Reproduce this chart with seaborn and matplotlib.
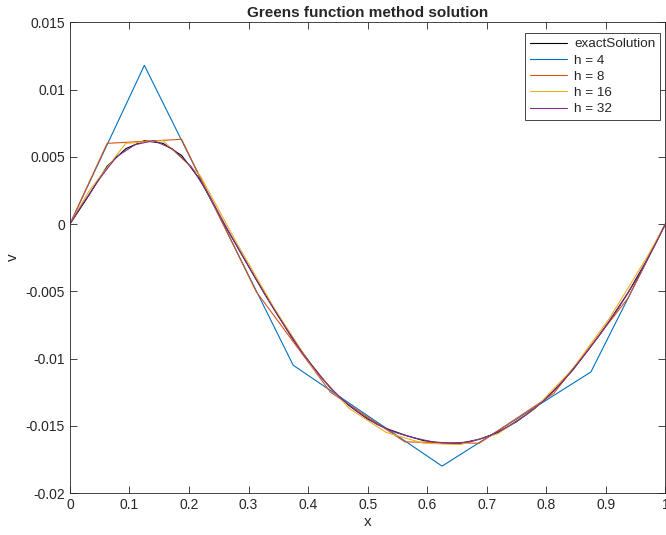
import matplotlib
matplotlib.use("Agg")
import matplotlib.pyplot as plt
import seaborn as sns

# exact solution, read at multiples of 1/32
x_exact = [0, 0.03125, 0.0625, 0.09375, 0.125, 0.15625, 0.1875, 0.21875, 0.25,
           0.28125, 0.3125, 0.34375, 0.375, 0.40625, 0.4375, 0.46875, 0.5,
           0.53125, 0.5625, 0.59375, 0.625, 0.65625, 0.6875, 0.71875, 0.75,
           0.78125, 0.8125, 0.84375, 0.875, 0.90625, 0.9375, 0.96875, 1]
v_exact = [0, 0.0021, 0.0043, 0.0056, 0.0062, 0.0060, 0.0051, 0.0033, 0.0007,
           -0.0017, -0.0041, -0.0064, -0.0086, -0.0105, -0.0122, -0.0135, -0.0145,
           -0.0152, -0.0157, -0.0161, -0.0163, -0.0163, -0.0160, -0.0155, -0.0147,
           -0.0137, -0.0124, -0.0109, -0.0091, -0.0072, -0.0051, -0.0027, 0]

x_h4 = [0, 0.125, 0.375, 0.625, 0.875, 1]
v_h4 = [0, 0.0118, -0.0105, -0.0180, -0.0110, 0]

x_h8 = [0, 0.0625, 0.1875, 0.3125, 0.4375, 0.5625, 0.6875, 0.8125, 0.9375, 1]
v_h8 = [0, 0.0060, 0.0063, -0.0050, -0.0125, -0.0162, -0.0163, -0.0126, -0.0055, 0]

x_h16 = [0, 0.03125, 0.09375, 0.15625, 0.21875, 0.28125, 0.34375, 0.40625, 0.46875,
         0.53125, 0.59375, 0.65625, 0.71875, 0.78125, 0.84375, 0.90625, 0.96875, 1]
v_h16 = [0, 0.0024, 0.0060, 0.0062, 0.0036, -0.0015, -0.0063, -0.0106, -0.0137,
         -0.0155, -0.0163, -0.0164, -0.0156, -0.0137, -0.0108, -0.0070, -0.0025, 0]

x_h32 = [0, 0.015625, 0.046875, 0.078125, 0.109375, 0.140625, 0.171875, 0.203125,
         0.234375, 0.265625, 0.296875, 0.328125, 0.359375, 0.390625, 0.421875,
         0.453125, 0.484375, 0.515625, 0.546875, 0.578125, 0.609375, 0.640625,
         0.671875, 0.703125, 0.734375, 0.765625, 0.796875, 0.828125, 0.859375,
         0.890625, 0.921875, 0.953125, 0.984375, 1]
v_h32 = [0, 0.0011, 0.0032, 0.0050, 0.0059, 0.0062, 0.0056, 0.0043,
         0.0021, -0.0005, -0.0029, -0.0053, -0.0075, -0.0096, -0.0114,
         -0.0129, -0.0140, -0.0149, -0.0155, -0.0159, -0.0162, -0.0163,
         -0.0162, -0.0158, -0.0151, -0.0142, -0.0131, -0.0117, -0.0100,
         -0.0082, -0.0062, -0.0040, -0.0014, 0]

x_ticks = [0, 0.1, 0.2, 0.3, 0.4, 0.5, 0.6, 0.7, 0.8, 0.9, 1]
x_labels = ["0", "0.1", "0.2", "0.3", "0.4", "0.5", "0.6", "0.7", "0.8", "0.9", "1"]
y_ticks = [-0.02, -0.015, -0.01, -0.005, 0, 0.005, 0.01, 0.015]
y_labels = ["-0.02", "-0.015", "-0.01", "-0.005", "0", "0.005", "0.01", "0.015"]

sns.set_style("ticks")
plt.rcParams['font.family'] = ['Liberation Sans', 'DejaVu Sans']

fig = plt.figure(figsize=(6.66, 5.35), dpi=100)
ax = fig.add_axes([0.105, 0.0785, 0.894, 0.8798])

lw = 0.8
sns.lineplot(x=x_exact, y=v_exact, color="black", lw=lw, label="exactSolution", ax=ax)
sns.lineplot(x=x_h4, y=v_h4, color="#0072BD", lw=lw, label="h = 4", ax=ax)
sns.lineplot(x=x_h8, y=v_h8, color="#D95319", lw=lw, label="h = 8", ax=ax)
sns.lineplot(x=x_h16, y=v_h16, color="#EDB120", lw=lw, label="h = 16", ax=ax)
sns.lineplot(x=x_h32, y=v_h32, color="#7E2F8E", lw=lw, label="h = 32", ax=ax)

ax.set_xlim(0, 1)
ax.set_ylim(-0.02, 0.015)
ax.set_xticks(x_ticks)
ax.set_xticklabels(x_labels)
ax.set_yticks(y_ticks)
ax.set_yticklabels(y_labels)
ax.tick_params(direction="in", top=True, right=True, labelsize=10,
               colors="#262626", length=5, width=0.6)
for s in ax.spines.values():
    s.set_color("#262626")
    s.set_linewidth(0.6)

ax.set_title("Greens function method solution", fontsize=11, fontweight="bold", pad=4)
ax.set_xlabel("x", fontsize=11, labelpad=2)
ax.set_ylabel("v", fontsize=11, labelpad=4)

leg = ax.legend(loc="upper right", fontsize=9.7, frameon=True, fancybox=False,
                edgecolor="#262626", framealpha=1, handlelength=2.8,
                handletextpad=0.5, borderaxespad=0.4, labelspacing=0.28,
                borderpad=0.35, bbox_to_anchor=(1.0, 0.988))
leg.get_frame().set_linewidth(0.6)

fig.savefig("out.png", dpi=100)
